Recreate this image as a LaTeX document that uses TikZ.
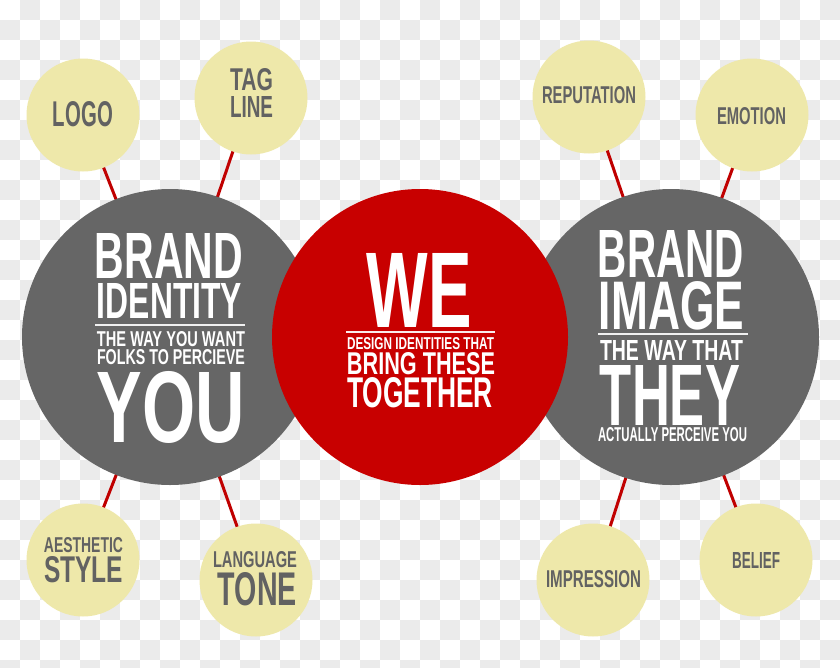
\documentclass[tikz,border=0pt]{standalone}
\usepackage{fontspec}
\usepackage{graphicx}
\IfFontExistsTF{Liberation Sans Narrow}{\newfontfamily\osw{Liberation Sans Narrow}}{\newfontfamily\osw{Liberation Sans}}
\definecolor{chk}{HTML}{EBEBEB}
\definecolor{bigred}{HTML}{C80000}
\definecolor{linered}{HTML}{C00000}
\definecolor{biggray}{HTML}{666666}
\definecolor{pale}{HTML}{EEE8AA}
\definecolor{smalltxt}{HTML}{626262}
\newcommand{\fitline}[3]{\resizebox{#1pt}{#2pt}{\osw\bfseries #3}}
\pgfdeclarelayer{back}
\pgfsetlayers{back,main}
\begin{document}
\begin{tikzpicture}[x=1pt,y=-1pt,
  bigc/.style={circle,inner sep=0pt,minimum size=296pt},
  smallc/.style={circle,inner sep=0pt,minimum size=113pt,fill=pale},
  wtxt/.style={inner sep=0pt,text=white},
  gtxt/.style={inner sep=0pt,text=smalltxt},
  link/.style={linered,line width=3pt},
  rulegray/.style={line width=2pt,draw=white!90!biggray},
  rulered/.style={line width=2pt,draw=white!92!bigred}]
\useasboundingbox (0,0) rectangle (840,667);
\begin{pgfonlayer}{back}
  \fill[white] (0,0) rectangle (840,667);
  \begin{scope}
    \clip (0,0) rectangle (840,667);
    \foreach \i in {0,...,41}{
      \foreach \j in {0,...,33}{
        \pgfmathtruncatemacro\pp{mod(\i+\j,2)}
        \ifnum\pp=1 \fill[chk] (\i*20,\j*20) rectangle ++(20,20);\fi
      }
    }
  \end{scope}
\end{pgfonlayer}
% big circles
\node[bigc,fill=biggray] (L) at (170,337) {};
\node[bigc,fill=biggray] (R) at (671,337) {};
\node[bigc,fill=bigred] (C) at (420,337) {};
% small circles
\node[smallc] (logo) at (83,115) {};
\node[smallc] (tag) at (251,98) {};
\node[smallc] (rep) at (589,97) {};
\node[smallc] (emo) at (752,115) {};
\node[smallc] (aes) at (83,560) {};
\node[smallc] (lang) at (256,580) {};
\node[smallc] (imp) at (593,580) {};
\node[smallc] (bel) at (756,560) {};
% connectors
\begin{pgfonlayer}{back}
  \draw[link] (logo.center) -- (L.center);
  \draw[link] (tag.center) -- (L.center);
  \draw[link] (aes.center) -- (L.center);
  \draw[link] (lang.center) -- (L.center);
  \draw[link] (rep.center) -- (R.center);
  \draw[link] (emo.center) -- (R.center);
  \draw[link] (imp.center) -- (R.center);
  \draw[link] (bel.center) -- (R.center);
\end{pgfonlayer}
% left text
\node[wtxt] (l1) at (169,255.5) {\fitline{148}{45}{BRAND}};
\node[wtxt] (l2) at (169.5,300.5) {\fitline{145}{35}{IDENTITY}};
\draw[rulegray] (95,325) -- (245,325);
\node[wtxt] (l3) at (171,339.5) {\fitline{148}{15}{THE WAY YOU WANT}};
\node[wtxt] (l4) at (171,357.5) {\fitline{148}{15}{FOLKS TO PERCIEVE}};
\node[wtxt] (l5) at (171,407.5) {\fitline{148}{71}{YOU}};
% center text
\node[wtxt] (c1) at (419.5,290) {\fitline{105}{74}{WE}};
\draw[rulered] (346,332) -- (495,332);
\node[wtxt] (c2) at (420.5,344) {\fitline{147}{12}{DESIGN IDENTITIES THAT}};
\node[wtxt] (c3) at (421,364) {\fitline{148}{22}{BRING THESE}};
\node[wtxt] (c4) at (420,393) {\fitline{146}{30}{TOGETHER}};
% right text
\node[wtxt] (r1) at (671,253.5) {\fitline{146}{47}{BRAND}};
\node[wtxt] (r2) at (671.5,306) {\fitline{145}{48}{IMAGE}};
\draw[rulegray] (598,334) -- (748,334);
\node[wtxt] (r3) at (671.5,350) {\fitline{143}{20}{THE WAY THAT}};
\node[wtxt] (r4) at (670,395) {\fitline{140}{60}{THEY}};
\node[wtxt] (r5) at (672.5,435) {\fitline{149}{14}{ACTUALLY PERCEIVE YOU}};
% small texts
\node[gtxt] (t1) at (83,114.5) {\fitline{60}{25}{LOGO}};
\node[gtxt] (t2) at (251.5,80) {\fitline{43}{22}{TAG}};
\node[gtxt] (t3) at (251.5,107) {\fitline{43}{21}{LINE}};
\node[gtxt] (t4) at (589,95.5) {\fitline{94}{17}{REPUTATION}};
\node[gtxt] (t5) at (751.5,116.5) {\fitline{69}{17}{EMOTION}};
\node[gtxt] (t6) at (83.5,545.5) {\fitline{79}{15}{AESTHETIC}};
\node[gtxt] (t7) at (83.5,570) {\fitline{79}{26}{STYLE}};
\node[gtxt] (t8) at (255,560) {\fitline{84}{16}{LANGUAGE}};
\node[gtxt] (t9) at (257.5,589.5) {\fitline{79}{33}{TONE}};
\node[gtxt] (t10) at (593.5,579.5) {\fitline{95}{17}{IMPRESSION}};
\node[gtxt] (t11) at (756,560) {\fitline{48}{16}{BELIEF}};
\end{tikzpicture}
\end{document}
